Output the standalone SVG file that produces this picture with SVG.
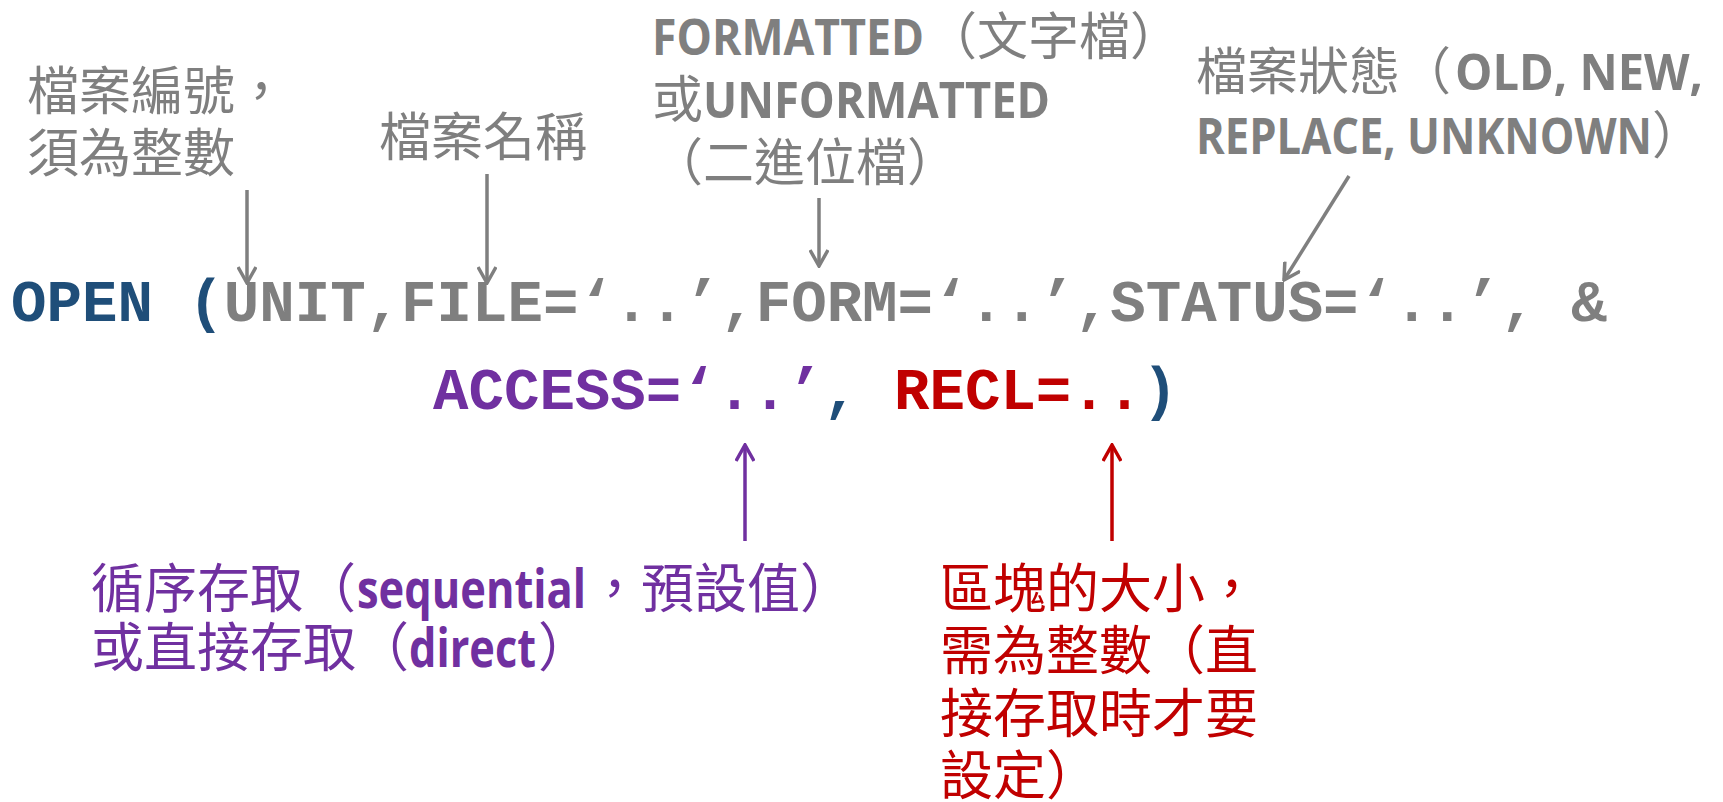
<svg xmlns="http://www.w3.org/2000/svg" width="1723" height="802" viewBox="0 0 1723 802">
<style>
.cjk{font-family:"Noto Sans CJK TC","Noto Sans CJK SC",sans-serif;}
.lat{font-family:"Open Sans","Noto Sans",sans-serif;font-weight:bold;}
.code{font-family:"Liberation Mono","Courier New",monospace;font-weight:bold;font-size:59.1px;}
.gray{fill:#7F7F7F;}
.blue{fill:#1F4E79;}
.purple{fill:#7030A0;}
.red{fill:#C00000;}
.s51{font-size:51px;}
.s53{font-size:53px;}
.ln{fill:none;stroke-width:3.5;}
</style>
<defs>
<marker id="ag" viewBox="0 0 20 20" refX="18" refY="10" markerWidth="20" markerHeight="20" markerUnits="userSpaceOnUse" orient="auto"><path d="M2,1 L18,10 L2,19" fill="none" stroke="#7F7F7F" stroke-width="3.5"/></marker>
<marker id="ap" viewBox="0 0 20 20" refX="18" refY="10" markerWidth="20" markerHeight="20" markerUnits="userSpaceOnUse" orient="auto"><path d="M2,1 L18,10 L2,19" fill="none" stroke="#7030A0" stroke-width="3.5"/></marker>
<marker id="ar" viewBox="0 0 20 20" refX="18" refY="10" markerWidth="20" markerHeight="20" markerUnits="userSpaceOnUse" orient="auto"><path d="M2,1 L18,10 L2,19" fill="none" stroke="#C00000" stroke-width="3.5"/></marker>
</defs>
<rect width="1723" height="802" fill="#FFFFFF"/>

<g id="label-unit" class="cjk gray">
<text x="27" y="110" font-size="52">檔案編號，</text>
<text x="27" y="172" font-size="52">須為整數</text>
</g>

<g id="label-file" class="cjk gray">
<text x="379" y="156" font-size="52">檔案名稱</text>
</g>

<g id="label-form" class="gray s51">
<text class="lat" x="652" y="55" textLength="272" lengthAdjust="spacingAndGlyphs">FORMATTED</text>
<text class="cjk" x="926" y="55">（文字檔）</text>
<text class="cjk" x="652" y="118">或</text>
<text class="lat" x="703" y="118" textLength="347" lengthAdjust="spacingAndGlyphs">UNFORMATTED</text>
<text class="cjk" x="652" y="181">（二進位檔）</text>
</g>

<g id="label-status" class="gray s51">
<text class="cjk" x="1196" y="90">檔案狀態（</text>
<text class="lat" x="1455" y="90" textLength="248" lengthAdjust="spacingAndGlyphs">OLD, NEW,</text>
<text class="lat" x="1196" y="154" textLength="456" lengthAdjust="spacingAndGlyphs">REPLACE, UNKNOWN</text>
<text class="cjk" x="1652" y="154">）</text>
</g>

<g id="code-line1" class="code">
<text x="11" y="321"><tspan class="blue">OPEN (</tspan><tspan class="gray">UNIT,FILE=‘..’,FORM=‘..’,STATUS=‘..’, &amp;</tspan></text>
</g>

<g id="code-line2" class="code">
<text x="433" y="409"><tspan class="purple">ACCESS=‘..’</tspan><tspan class="blue">,</tspan><tspan class="red" dx="35.46">RECL=..</tspan><tspan class="blue">)</tspan></text>
</g>

<g id="label-access" class="purple s53">
<text class="cjk" x="91" y="608">循序存取（</text>
<text class="lat" x="357" y="608" textLength="229" lengthAdjust="spacingAndGlyphs">sequential</text>
<text class="cjk" x="588" y="608">，預設值）</text>
<text class="cjk" x="91" y="667">或直接存取（</text>
<text class="lat" x="409" y="667" textLength="127" lengthAdjust="spacingAndGlyphs">direct</text>
<text class="cjk" x="538" y="667">）</text>
</g>

<g id="label-recl" class="cjk red s53">
<text x="940" y="608">區塊的大小，</text>
<text x="940" y="670">需為整數（直</text>
<text x="940" y="733">接存取時才要</text>
<text x="940" y="795">設定）</text>
</g>

<g id="connectors">
<line class="ln" stroke="#7F7F7F" x1="247" y1="190" x2="247" y2="283" marker-end="url(#ag)"/>
<line class="ln" stroke="#7F7F7F" x1="487" y1="174" x2="487" y2="283" marker-end="url(#ag)"/>
<line class="ln" stroke="#7F7F7F" x1="819" y1="198" x2="819" y2="266" marker-end="url(#ag)"/>
<line class="ln" stroke="#7F7F7F" x1="1349" y1="176" x2="1284" y2="280" marker-end="url(#ag)"/>
<line class="ln" stroke="#7030A0" x1="745" y1="541" x2="745" y2="445" marker-end="url(#ap)"/>
<line class="ln" stroke="#C00000" x1="1112" y1="541" x2="1112" y2="445" marker-end="url(#ar)"/>
</g>
</svg>
